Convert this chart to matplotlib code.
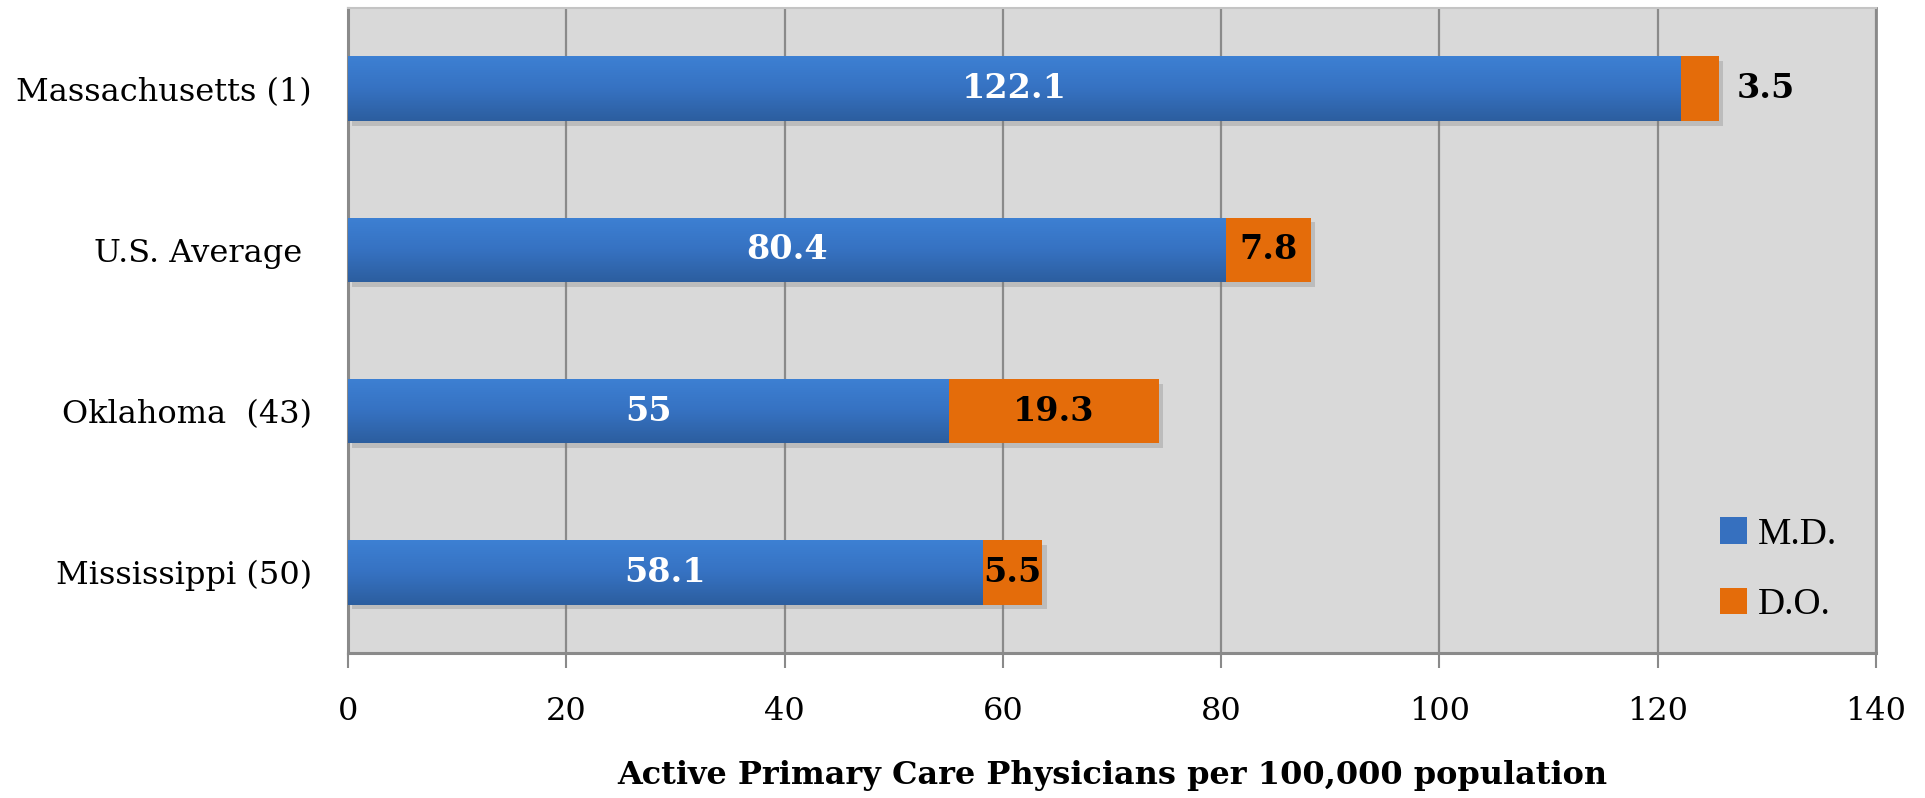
import numpy as np
import matplotlib
matplotlib.use("Agg")
import matplotlib.pyplot as plt
from matplotlib.patches import Patch
from matplotlib.colors import LinearSegmentedColormap

# data
states = ['Massachusetts (1)', 'U.S. Average ', 'Oklahoma  (43)', 'Mississippi (50)']
md = [122.1, 80.4, 55, 58.1]
do = [3.5, 7.8, 19.3, 5.5]
xticks = [0, 20, 40, 60, 80, 100, 120, 140]

blue = '#3670bf'
orange = '#e46c0a'
grid_gray = '#8a8a8a'

fig = plt.figure(figsize=(19.25, 7.98), dpi=100)
ax = fig.add_axes([348/1925, 145/798, 1528/1925, 645/798])
ax.set_facecolor('#d9d9d9')

y = np.arange(len(states))
h = 0.4

# soft shadow under the bars
tot = np.array(md) + np.array(do)
ax.barh(y + 0.03, tot, height=h, left=0.4, color='#7a7a7a', alpha=0.3, zorder=2)

md_bars = ax.barh(y, md, height=h, color=blue, zorder=3)
do_bars = ax.barh(y, do, left=md, height=h, color=orange, zorder=3)

# vertical gradient on the blue bars
cmap = LinearSegmentedColormap.from_list('bl', ['#3d80d3', '#3672c2', '#2c5e9f'])
grad = np.linspace(0, 1, 64).reshape(-1, 1)
for b in md_bars:
    x0, y0 = b.get_x(), b.get_y()
    im = ax.imshow(grad, cmap=cmap, aspect='auto', zorder=3.5,
                   extent=[x0, x0 + b.get_width(), y0 + b.get_height(), y0],
                   origin='upper')
    im.set_clip_path(b)

# value labels
for i in range(len(states)):
    ax.text(md[i] / 2, y[i], str(md[i]), color='white', fontsize=24,
            fontweight='bold', ha='center', va='center', zorder=5,
            family='DejaVu Serif')
    if i == 0:
        ax.text(md[i] + do[i] + 1.6, y[i], str(do[i]), color='black', fontsize=24,
                fontweight='bold', ha='left', va='center', zorder=5,
                family='DejaVu Serif')
    else:
        ax.text(md[i] + do[i] / 2, y[i], str(do[i]), color='black', fontsize=24,
                fontweight='bold', ha='center', va='center', zorder=5,
                family='DejaVu Serif')

ax.set_xlim(0, 140)
ax.set_ylim(3.5, -0.5)
ax.set_xticks(xticks)
ax.set_xticklabels([str(t) for t in xticks], fontsize=23, family='DejaVu Serif')
ax.set_yticks(y)
ax.set_yticklabels(states, fontsize=23, family='DejaVu Serif')
ax.tick_params(axis='y', length=0, pad=26)
ax.tick_params(axis='x', length=11, width=1.5, color=grid_gray, pad=20)
ax.xaxis.grid(True, color=grid_gray, linewidth=1.6, zorder=1)
ax.set_axisbelow(True)

for s in ['left', 'bottom']:
    ax.spines[s].set_color(grid_gray)
    ax.spines[s].set_linewidth(2.2)
ax.spines['top'].set_color('#c4c4c4')
ax.spines['top'].set_linewidth(1.5)
ax.spines['right'].set_color(grid_gray)
ax.spines['right'].set_linewidth(2)

ax.set_xlabel('Active Primary Care Physicians per 100,000 population',
              fontsize=23, fontweight='bold', family='DejaVu Serif', labelpad=24)

handles = [Patch(facecolor=blue, label='M.D.'), Patch(facecolor=orange, label='D.O.')]
ax.legend(handles=handles, loc='lower left', bbox_to_anchor=(0.876, -0.004),
          frameon=False, prop={'family': 'Liberation Serif', 'size': 27},
          handlelength=0.7, handleheight=0.7, handletextpad=0.3, labelspacing=0.95)

fig.savefig('out.png', dpi=100)
